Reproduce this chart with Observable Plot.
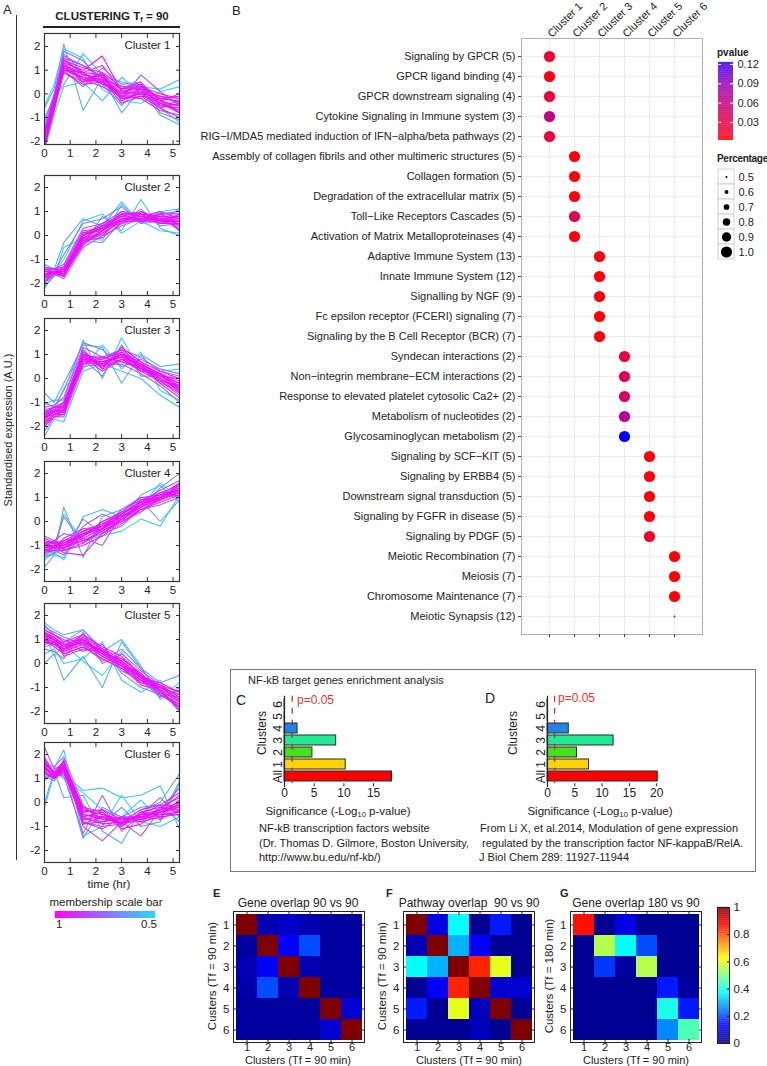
<!DOCTYPE html>
<html><head><meta charset="utf-8">
<script src="https://cdn.jsdelivr.net/npm/d3@7"></script>
<script src="https://cdn.jsdelivr.net/npm/@observablehq/plot@0.6"></script>
<style>
body{margin:0;background:#fff;font-family:"Liberation Sans",Arial,Helvetica,sans-serif;}
#root{position:relative;width:767px;height:1066px;overflow:hidden;background:#fff;}
.t{position:absolute;white-space:nowrap;color:#222;line-height:1;}
.t sub{font-size:65%;vertical-align:-0.25em;line-height:0;}
</style></head><body><div id="root"></div><script>
// ---------------- DATA ----------------
const times = [0, 0.375, 0.75, 1.5, 2.25, 3, 3.75, 4.5, 5.25];
const membership = [0.98,0.97,0.96,0.95,0.94,0.93,0.92,0.90,0.80,0.76,0.72,0.68,0.60,0.56,0.53,0.50,
  0.99,0.97,0.95,0.93,0.91,0.88,0.86,0.84];
const cluster1 = [
[-1.9,-0.4,1.2,0.8,0.7,0.0,0.1,-0.3,-0.5],[-2.1,-0.5,1.1,0.6,0.5,-0.2,0.0,-0.5,-0.6],
[-1.7,-0.2,1.4,0.9,0.8,0.2,0.3,-0.2,-0.3],[-2.2,-0.6,1.0,0.7,0.6,-0.1,0.2,-0.4,-0.8],
[-1.8,-0.3,1.3,1.0,1.6,0.1,0.0,-0.1,-0.2],[-2.0,-0.4,1.2,0.5,0.9,-0.3,0.1,-0.6,-0.4],
[-1.6,-0.2,1.5,0.8,0.6,0.3,0.4,-0.3,0.0],[-2.3,-0.7,0.9,0.4,0.5,-0.1,-0.2,-0.7,-0.9],
[-1.5,-0.2,1.6,1.2,0.7,-0.2,0.8,0.1,-0.5],[-1.2,0.0,1.8,1.4,0.5,0.2,0.4,-0.2,-0.8],
[-2.0,-0.5,1.0,0.3,1.1,0.4,0.5,-0.8,-1.1],[-1.4,-0.1,1.7,0.9,0.4,-0.5,0.3,-0.5,-0.3],
[-0.6,0.2,2.1,-0.7,0.7,-0.8,0.2,-0.9,-1.3],[-1.0,-0.2,0.4,1.7,0.8,0.5,0.3,0.2,0.6],
[-2.4,-0.9,0.3,0.5,-0.3,0.7,0.0,-0.6,-1.2],[-0.5,0.4,1.9,1.5,0.2,-0.3,-0.4,0.1,0.3],
[-1.8,-0.3,1.0,0.9,0.4,0.1,0.2,-0.4,-0.7],[-2.0,-0.5,1.3,0.6,0.8,-0.2,-0.1,-0.2,-0.1],
[-1.7,-0.3,1.1,0.7,0.5,0.0,0.4,-0.5,-0.6],[-2.1,-0.6,1.4,1.1,0.9,0.3,0.2,-0.1,-0.4],
[-1.9,-0.4,0.9,0.5,0.6,-0.4,-0.1,-0.6,-1.0],[-1.6,-0.1,1.2,0.9,1.2,0.1,0.3,0.0,-0.2],
[-2.2,-0.7,1.1,0.6,0.3,-0.1,0.0,-0.4,-0.5],[-1.8,-0.4,1.5,1.2,0.7,0.2,0.5,-0.3,-0.8]];
const cluster2 = [
[-1.7,-1.5,-1.6,-0.2,0.2,0.7,0.8,0.6,0.6],[-1.6,-1.5,-1.5,0.0,0.3,0.8,0.7,0.8,0.7],
[-1.8,-1.5,-1.7,-0.3,0.1,0.6,0.9,0.5,0.5],[-1.5,-1.5,-1.4,0.1,0.4,0.9,0.6,0.7,0.8],
[-1.9,-1.6,-1.6,-0.1,0.0,0.7,0.7,0.9,0.4],[-1.4,-1.4,-1.5,0.0,0.3,0.5,1.0,0.6,0.7],
[-1.7,-1.5,-1.6,-0.4,0.2,0.9,0.8,0.7,0.3],[-1.6,-1.6,-1.3,-0.2,0.4,0.8,0.6,0.9,0.9],
[-1.3,-1.4,-1.2,0.3,0.5,1.0,0.9,0.6,0.8],[-2.0,-1.6,-1.8,-0.5,0.0,0.4,0.7,1.0,0.2],
[-1.5,-1.5,-0.8,0.5,0.7,1.2,0.5,0.9,1.0],[-2.1,-1.7,-1.5,-0.2,-0.3,0.6,1.1,0.4,0.5],
[-1.2,-1.4,-0.3,0.7,0.4,1.4,0.5,0.6,1.1],[-2.2,-1.6,-1.7,-0.4,0.8,0.2,1.5,0.3,0.0],
[-1.4,-1.5,-1.0,0.6,0.9,0.1,0.6,0.2,0.1],[-1.9,-1.7,-0.5,-0.1,-0.2,1.3,0.5,1.0,1.1],
[-1.6,-1.5,-1.5,-0.1,0.3,0.7,0.7,0.7,0.5],[-1.7,-1.5,-1.7,0.1,0.2,0.9,0.9,0.8,0.8],
[-1.5,-1.4,-1.4,-0.3,0.1,0.6,0.6,0.6,0.4],[-1.8,-1.6,-1.5,0.0,0.5,0.8,1.0,0.7,0.6],
[-1.6,-1.5,-1.6,-0.2,-0.1,0.5,0.7,0.5,0.9],[-1.4,-1.4,-1.3,0.2,0.3,1.0,0.8,1.0,0.7],
[-1.9,-1.6,-1.7,-0.3,0.2,0.7,0.6,0.8,0.2],[-1.7,-1.5,-1.4,0.0,0.4,0.6,0.8,0.6,0.6]];
const cluster3 = [
[-1.6,-1.4,-1.2,0.9,0.6,1.0,0.5,0.1,-0.3],[-1.8,-1.5,-1.3,0.8,0.5,0.8,0.4,0.0,-0.5],
[-1.4,-1.2,-1.0,1.0,0.8,1.1,0.6,0.2,-0.2],[-1.7,-1.3,-1.4,0.7,0.7,0.9,0.3,-0.1,-0.6],
[-1.5,-1.4,-1.1,1.2,0.4,1.3,0.7,0.3,0.0],[-2.0,-1.6,-1.3,0.6,0.9,0.7,0.5,0.0,-0.4],
[-1.3,-1.2,-1.2,1.1,0.6,1.0,0.4,0.2,-0.1],[-1.9,-1.5,-1.5,0.9,0.3,0.8,0.6,-0.2,-0.8],
[-1.2,-1.1,-0.8,1.3,0.9,1.2,0.9,0.3,0.1],[-2.2,-1.6,-1.6,0.5,0.6,0.6,0.2,-0.3,-1.0],
[-1.0,-1.2,-0.5,1.5,1.2,0.5,0.8,0.4,0.2],[-1.6,-1.3,-1.0,0.8,0.1,1.4,0.1,0.1,-0.5],
[-0.6,-1.0,-0.2,1.4,1.3,-0.2,1.0,0.5,0.6],[-2.4,-1.7,-1.8,0.3,0.6,0.3,0.0,-0.7,-1.2],
[-1.1,-0.9,-0.9,1.6,0.0,1.7,0.3,0.3,0.4],[-1.5,-1.4,-0.4,0.4,1.4,0.4,1.1,-0.5,-0.9],
[-1.6,-1.4,-1.3,0.8,0.7,0.9,0.6,0.2,-0.4],[-1.7,-1.4,-1.2,1.0,0.5,1.1,0.4,-0.1,-0.3],
[-1.5,-1.3,-1.1,0.9,0.6,0.9,0.5,0.0,-0.5],[-1.8,-1.5,-1.4,0.7,0.8,1.2,0.6,0.1,-0.2],
[-1.4,-1.3,-1.0,1.1,0.4,0.8,0.3,0.2,-0.6],[-1.9,-1.6,-1.5,0.6,0.7,1.0,0.7,-0.1,-0.7],
[-1.5,-1.2,-1.2,0.9,0.9,0.7,0.4,0.1,0.0],[-1.6,-1.5,-1.3,1.0,0.6,1.1,0.5,-0.2,-0.4]];
const cluster4 = [
[-1.1,-1.0,-1.0,-0.6,-0.2,0.2,0.7,1.0,1.3],[-1.0,-0.9,-0.9,-0.5,-0.3,0.3,0.8,1.1,1.4],
[-1.2,-1.1,-1.1,-0.8,-0.4,0.1,0.6,0.9,1.2],[-0.9,-0.8,-1.0,-0.4,-0.1,0.3,0.9,1.0,1.5],
[-1.3,-1.2,-1.2,-1.0,-0.6,-0.1,0.5,0.8,1.1],[-0.7,-0.9,-0.8,-0.6,0.0,0.4,1.0,1.1,1.6],
[-1.1,-1.0,-1.3,-1.4,-0.5,0.0,0.4,1.0,1.3],[-1.0,-1.1,-0.7,-0.3,-0.2,0.2,0.7,1.2,1.2],
[-0.6,-0.8,-0.5,-0.7,-1.0,0.3,0.8,1.3,1.7],[-1.4,-1.2,-1.4,-0.2,0.3,0.0,0.5,0.7,1.0],
[-1.2,-1.0,0.2,-0.9,-0.3,0.5,1.0,0.9,1.4],[-1.5,-1.3,-1.2,0.1,-0.5,-0.2,0.6,1.4,2.0],
[-1.9,-1.4,0.6,-1.5,0.2,0.5,0.9,0.0,0.9],[-1.2,-1.3,-1.6,0.2,0.5,0.2,1.1,1.5,0.8],
[-1.6,-1.3,0.3,-0.8,-0.6,-0.4,0.1,-0.2,1.1],[-1.4,-1.4,-1.5,-0.5,-0.4,0.4,0.6,1.6,1.0],
[-1.1,-1.0,-1.1,-0.7,-0.3,0.1,0.7,1.1,1.3],[-1.0,-1.0,-0.9,-0.6,-0.1,0.3,0.8,0.9,1.4],
[-1.2,-1.1,-1.0,-0.5,-0.3,0.2,0.6,1.0,1.2],[-0.9,-0.9,-1.2,-0.9,-0.4,0.0,0.9,1.2,1.5],
[-1.3,-1.1,-0.8,-0.4,-0.2,0.4,0.7,1.0,1.1],[-1.0,-0.8,-1.0,-0.8,-0.5,0.1,0.5,0.9,1.6],
[-1.2,-1.2,-1.1,-0.6,0.0,0.3,0.8,1.1,1.3],[-0.8,-0.9,-0.9,-0.5,-0.2,0.2,0.6,1.0,1.2]];
const cluster5 = [
[1.1,0.9,0.6,0.9,0.4,0.0,-0.6,-1.0,-1.5],[1.3,1.0,0.8,1.0,0.5,0.1,-0.5,-1.1,-1.6],
[0.9,0.8,0.5,0.8,0.3,-0.1,-0.7,-0.9,-1.4],[1.2,1.1,0.7,1.1,0.6,0.2,-0.4,-1.2,-1.7],
[1.0,0.7,0.4,0.7,0.2,-0.2,-0.8,-1.0,-1.3],[1.4,1.2,0.9,1.2,0.7,0.3,-0.5,-1.3,-1.8],
[0.8,0.9,0.6,1.0,0.4,0.0,-0.6,-0.8,-1.2],[1.1,1.0,0.3,0.6,0.5,-0.1,-0.9,-1.1,-2.0],
[1.6,1.2,1.0,0.5,0.8,-0.3,-0.7,-1.4,-1.1],[0.6,0.5,0.2,1.3,0.0,0.4,-0.3,-0.9,-1.6],
[1.5,1.3,1.1,0.8,0.1,0.6,-0.2,-1.2,-1.9],[0.7,0.8,0.9,1.4,0.6,-0.4,-1.0,-1.3,-1.4],
[0.0,0.4,-0.7,0.3,-1.0,0.9,-0.2,-0.8,-0.5],[1.7,1.4,1.2,1.4,0.5,1.0,-0.1,-1.5,-1.0],
[0.4,0.6,0.0,0.2,0.9,-0.7,-1.2,-0.7,-2.0],[1.3,0.3,0.8,0.1,-0.5,0.5,-0.6,-1.4,-0.8],
[1.2,1.0,0.7,0.9,0.5,0.1,-0.5,-1.0,-1.5],[1.0,0.9,0.5,1.0,0.3,-0.1,-0.7,-1.1,-1.6],
[1.3,1.1,0.8,0.8,0.6,0.0,-0.6,-0.9,-1.4],[0.9,0.8,0.6,1.1,0.4,0.2,-0.4,-1.2,-1.8],
[1.1,1.0,0.4,0.7,0.2,-0.2,-0.8,-1.0,-1.3],[1.4,1.2,0.9,1.0,0.5,0.1,-0.6,-1.3,-1.7],
[1.0,0.8,0.6,0.9,0.4,-0.1,-0.5,-0.9,-1.2],[1.2,1.0,0.7,1.2,0.6,0.0,-0.7,-1.1,-1.9]];
const cluster6 = [
[1.5,1.1,1.5,-0.5,-0.6,-0.8,-0.6,-0.4,-0.2],[1.7,1.2,1.6,-0.3,-0.5,-0.9,-0.5,-0.3,0.0],
[1.3,1.0,1.4,-0.7,-0.8,-0.7,-0.7,-0.5,-0.4],[1.6,1.3,1.7,-0.4,-0.3,-1.0,-0.4,-0.2,0.2],
[1.2,1.0,1.3,-0.8,-1.1,-0.6,-0.8,-0.6,-0.5],[1.9,1.2,1.5,-0.2,-0.7,-0.8,-0.3,-0.1,0.4],
[1.4,1.1,1.2,-0.6,-0.4,-1.1,-0.9,-0.4,-0.1],[1.5,1.0,1.8,-0.9,-0.6,-0.7,-0.6,-0.7,-0.3],
[2.3,1.4,1.6,-1.0,-1.6,-0.8,-1.4,-0.3,0.6],[1.0,1.2,1.1,-1.3,0.3,-1.2,-0.5,0.2,-0.6],
[1.6,1.5,1.9,-0.1,-0.9,-0.2,-1.0,-0.8,0.8],[1.1,0.9,1.4,-1.5,-0.2,-0.6,-0.2,-0.1,-0.8],
[0.0,1.3,0.2,0.3,-1.2,-1.7,-0.3,0.0,1.2],[-0.2,1.2,1.2,0.5,0.6,0.2,0.3,0.7,-1.1],
[1.3,1.4,2.2,-1.4,-1.0,0.3,-0.8,-1.0,-0.6],[0.9,1.3,1.0,0.4,-0.3,-0.6,0.1,-0.7,0.9],
[1.5,1.1,1.4,-0.5,-0.7,-0.8,-0.6,-0.4,-0.1],[1.6,1.2,1.6,-0.3,-0.5,-0.7,-0.7,-0.3,-0.3],
[1.3,1.0,1.5,-0.7,-0.6,-0.9,-0.5,-0.5,0.1],[1.4,1.1,1.3,-0.6,-0.9,-0.8,-0.8,-0.2,-0.4],
[1.8,1.2,1.7,-0.2,-0.4,-1.0,-0.4,-0.6,0.0],[1.2,1.0,1.4,-0.9,-0.8,-0.6,-0.6,-0.3,0.3],
[1.5,1.1,1.6,-0.4,-0.3,-0.7,-0.5,-0.1,-0.2],[1.7,1.2,1.5,-0.8,-1.0,-0.9,-0.7,-0.5,-0.5]];
const clusterProfiles = [cluster1, cluster2, cluster3, cluster4, cluster5, cluster6];

const clusterNames = ["Cluster 1","Cluster 2","Cluster 3","Cluster 4","Cluster 5","Cluster 6"];
const pathways = [
"Signaling by GPCR (5)","GPCR ligand binding (4)","GPCR downstream signaling (4)",
"Cytokine Signaling in Immune system (3)","RIG\u2212I/MDA5 mediated induction of IFN\u2212alpha/beta pathways (2)",
"Assembly of collagen fibrils and other multimeric structures (5)","Collagen formation (5)",
"Degradation of the extracellular matrix (5)","Toll\u2212Like Receptors Cascades (5)",
"Activation of Matrix Metalloproteinases (4)","Adaptive Immune System (13)","Innate Immune System (12)",
"Signalling by NGF (9)","Fc epsilon receptor (FCERI) signaling (7)","Signaling by the B Cell Receptor (BCR) (7)",
"Syndecan interactions (2)","Non\u2212integrin membrane\u2212ECM interactions (2)",
"Response to elevated platelet cytosolic Ca2+ (2)","Metabolism of nucleotides (2)",
"Glycosaminoglycan metabolism (2)","Signaling by SCF\u2212KIT (5)","Signaling by ERBB4 (5)",
"Downstream signal transduction (5)","Signaling by FGFR in disease (5)","Signaling by PDGF (5)",
"Meiotic Recombination (7)","Meiosis (7)","Chromosome Maintenance (7)","Meiotic Synapsis (12)"];
const pathwayCluster = [1,1,1,1,1, 2,2,2,2,2, 3,3,3,3,3, 4,4,4,4,4, 5,5,5,5,5, 6,6,6,6];
const pathwayP = [0.018,0.005,0.022,0.060,0.022, 0.004,0.004,0.004,0.035,0.004,
  0.003,0.003,0.003,0.003,0.003, 0.025,0.035,0.045,0.070,0.123,
  0.004,0.004,0.004,0.004,0.012, 0.003,0.003,0.003,0.003];
const pathwayPct = [1,1,1,1,1, 1,1,1,1,1, 1,1,1,1,1, 1,1,1,1,1, 1,1,1,1,1, 1,1,1,0.5];
const pctLegend = [0.5,0.6,0.7,0.8,0.9,1.0];
const pTicks = [0.03,0.06,0.09,0.12];

const barCats = ["6","5","4","3","2","1","All"];
const barColors = ["#1a1a1a","#1a1a1a","#1f86e6","#22ea90","#44e21c","#ffd400","#ff0000"];
const sigC = [0.08,0.08,2.2,8.7,4.7,10.3,18.1];
const sigD = [0.08,0.08,3.9,12.1,5.4,7.6,20.2];
const pThreshold = 1.3;

const heatLabels = ["1","2","3","4","5","6"];
const geneOverlap90 = [
[1.00,0.05,0.07,0.05,0.03,0.03],[0.03,1.00,0.12,0.20,0.03,0.03],[0.05,0.12,1.00,0.05,0.03,0.03],
[0.04,0.20,0.05,1.00,0.03,0.03],[0.03,0.03,0.03,0.03,1.00,0.08],[0.03,0.03,0.03,0.03,0.08,1.00]];
const pathwayOverlap90 = [
[1.00,0.10,0.38,0.02,0.15,0.02],[0.05,1.00,0.30,0.12,0.02,0.02],[0.38,0.30,1.00,0.84,0.60,0.02],
[0.02,0.12,0.84,1.00,0.08,0.08],[0.15,0.02,0.60,0.06,1.00,0.02],[0.02,0.02,0.02,0.06,0.02,1.00]];
const geneOverlap180 = [
[0.86,0.02,0.10,0.02,0.02,0.02],[0.02,0.55,0.38,0.20,0.02,0.02],[0.02,0.18,0.03,0.55,0.02,0.02],
[0.02,0.02,0.02,0.02,0.15,0.03],[0.02,0.02,0.02,0.02,0.40,0.15],[0.02,0.02,0.02,0.02,0.26,0.45]];
const jetStops = [0,0.125,0.375,0.625,0.875,1];
const jetColors = ["#00007f","#0000ff","#00ffff","#ffff00","#ff0000","#7f0000"];
const colorbarTicks = [0,0.2,0.4,0.6,0.8,1];

// ---------------- HELPERS ----------------
const FONT = '"Liberation Sans", Arial, Helvetica, sans-serif';
const root = document.getElementById("root");
const style = {fontFamily: FONT, fontSize: "11px", color: "#222", background: "none", overflow: "visible"};
function put(node, left, top) {
  node.style.position = "absolute"; node.style.left = left + "px"; node.style.top = top + "px";
  root.appendChild(node); return node;
}
function label(html, x, y, {anchor = "start", size = 11, weight = "normal", color = "#222", rotate = 0, spacing = 0} = {}) {
  const d = document.createElement("div");
  d.className = "t"; d.innerHTML = html;
  d.style.left = x + "px"; d.style.top = y + "px";
  d.style.fontSize = size + "px"; d.style.fontWeight = weight; d.style.color = color;
  if (spacing) d.style.letterSpacing = spacing + "px";
  const tx = anchor === "start" ? "0" : anchor === "middle" ? "-50%" : "-100%";
  d.style.transform = `translate(${tx},-50%)` + (rotate ? ` rotate(${rotate}deg)` : "");
  root.appendChild(d);
}
function line(x, y, w, h, color = "#333") {
  const d = document.createElement("div");
  d.style.position = "absolute"; d.style.left = x + "px"; d.style.top = y + "px";
  d.style.width = w + "px"; d.style.height = h + "px"; d.style.background = color;
  root.appendChild(d);
}

// ---------------- PANEL A ----------------
const memColor = {type: "linear", domain: [0.5, 1], range: ["#2ad8f5", "#ff00ff"], interpolate: "rgb"};
const aFrames = [[33,144,-2.14,2.55],[175,295,-2.5,2.5],[318,438,-2.5,2.5],[461,581,-2.5,2.5],[603,723,-2.5,2.5],[742,862,-2.5,2.5]];
clusterProfiles.forEach((profiles, k) => {
  const rows = [];
  profiles.map((v, i) => ({v, i, m: membership[i]}))
    .sort((a, b) => a.m - b.m)
    .forEach(({v, i, m}) => v.forEach((y, j) => rows.push({id: i, m, t: times[j], y})));
  const [top, bottom, y0, y1] = aFrames[k];
  const h = bottom - top;
  const xt = [0,1,2,3,4,5], yt = [-2,-1,0,1,2];
  const p = Plot.plot({
    width: 25 + 135 + 4, height: 3 + h + 18,
    marginLeft: 25, marginRight: 4, marginTop: 3, marginBottom: 18,
    style,
    x: {domain: [0, 5.25]}, y: {domain: [y0, y1]},
    color: memColor,
    marks: [
      Plot.line(rows, {x: "t", y: "y", z: "id", stroke: "m", strokeWidth: 1.1, clip: true}),
      Plot.axisX({anchor: "bottom", ticks: xt, tickSize: -4, tickFormat: () => "", label: null, stroke: "#333"}),
      Plot.axisX({anchor: "top", ticks: xt, tickSize: -4, tickFormat: () => "", label: null, stroke: "#333"}),
      Plot.axisY({anchor: "left", ticks: yt, tickSize: -4, tickFormat: () => "", label: null, stroke: "#333"}),
      Plot.axisY({anchor: "right", ticks: yt, tickSize: -4, tickFormat: () => "", label: null, stroke: "#333"}),
      Plot.axisX({anchor: "bottom", ticks: xt, tickSize: 0, tickPadding: 4, label: null, fontSize: 11.5, tickFormat: d => String(d)}),
      Plot.axisY({anchor: "left", ticks: yt, tickSize: 0, tickPadding: 4, label: null, fontSize: 11.5, tickFormat: d => d < 0 ? "-" + Math.abs(d) : String(d)}),
      Plot.frame({stroke: "#333", strokeWidth: 1.2}),
      Plot.text([clusterNames[k]], {frameAnchor: "top-right", dx: -9, dy: 7, fontSize: 11.5, fill: "#222"})
    ]
  });
  put(p, 19, top - 3);
});
// membership scale bar
{
  const steps = d3.range(0.5, 1.0, 0.005);
  const p = Plot.plot({
    width: 100, height: 7, margin: 0, style,
    x: {domain: [1, 0.5], axis: null}, color: memColor,
    marks: [Plot.rect(steps, {x1: d => d, x2: d => d + 0.006, fill: d => d})]
  });
  put(p, 55, 911);
}

// ---------------- PANEL B ----------------
const pathwayTable = pathways.map((name, i) => ({pathway: name, cluster: clusterNames[pathwayCluster[i] - 1], p: pathwayP[i], pct: pathwayPct[i]}));
const pColor = {type: "linear", domain: [0.002, 0.123], range: ["#ff0000", "#0000ff"], interpolate: "lab"};
const rScale = {type: "linear", domain: [0.5, 1], range: [1, 5.6]};
{
  const p = Plot.plot({
    width: 315 + 181 + 2, height: 38 + 596 + 10,
    marginLeft: 315, marginRight: 2, marginTop: 38, marginBottom: 10,
    style,
    x: {type: "point", domain: clusterNames, padding: 1},
    y: {type: "point", domain: pathways, padding: 0.6},
    r: rScale, color: pColor,
    marks: [
      Plot.gridX({stroke: "#e6e6e6", strokeOpacity: 1, strokeWidth: 0.8}),
      Plot.gridY({stroke: "#e6e6e6", strokeOpacity: 1, strokeWidth: 0.8}),
      Plot.frame({stroke: "#b0b0b0"}),
      Plot.dot(pathwayTable, {x: "cluster", y: "pathway", r: "pct", fill: "p"}),
      Plot.axisY({anchor: "left", tickSize: 3, tickPadding: 3, label: null, stroke: "#444", fontSize: 11}),
      Plot.axisX({anchor: "bottom", tickSize: 3, tickFormat: () => "", label: null, stroke: "#444"}),
      Plot.axisX({anchor: "top", tickSize: 0, tickPadding: 3, tickRotate: -45, textAnchor: "start", label: null, fontSize: 11})
    ]
  });
  put(p, 206, 0);
}
// pvalue colorbar
label("pvalue", 717, 53, {size: 10, weight: "bold"});
{
  const steps = d3.range(0.002, 0.123, 0.001);
  const p = Plot.plot({
    width: 15 + 35, height: 78, marginLeft: 0, marginRight: 35, marginTop: 0, marginBottom: 0,
    style, y: {domain: [0.002, 0.123]}, color: pColor,
    marks: [
      Plot.rect(steps, {y1: d => d, y2: d => d + 0.0012, fill: d => d}),
      Plot.tickY(pTicks, {y: d => d, stroke: "white", insetRight: 12}),
      Plot.tickY(pTicks, {y: d => d, stroke: "white", insetLeft: 12}),
      Plot.axisY({anchor: "right", ticks: pTicks, tickSize: 0, tickPadding: 4, tickFormat: ".2f", label: null, fontSize: 11})
    ]
  });
  put(p, 718, 62);
}
// percentage legend
label("Percentage", 717, 159, {size: 10, weight: "bold", spacing: -0.3});
{
  const p = Plot.plot({
    width: 16 + 35, height: 95, marginLeft: 0, marginRight: 35, marginTop: 0, marginBottom: 0,
    style,
    x: {type: "band", domain: ["k"], padding: 0, axis: null},
    y: {type: "band", domain: pctLegend, padding: 0},
    r: rScale,
    marks: [
      Plot.cell(pctLegend, {x: () => "k", y: d => d, fill: "white", stroke: "#d0d0d0", inset: 0}),
      Plot.dot(pctLegend, {x: () => "k", y: d => d, r: d => d, fill: "black"}),
      Plot.axisY({anchor: "right", tickSize: 0, tickPadding: 4, tickFormat: ".1f", label: null, fontSize: 11})
    ]
  });
  put(p, 718, 166);
}

// ---------------- PANELS C / D ----------------
function barPlot(values, maxX, ticks, pxPerUnit) {
  const data = barCats.map((c, i) => ({c, v: values[i], col: barColors[i]}));
  return Plot.plot({
    width: 40 + maxX * pxPerUnit + 8, height: 5.75 + 87.5 + 20,
    marginLeft: 40, marginRight: 8, marginTop: 5.75, marginBottom: 20,
    style,
    x: {domain: [0, maxX]},
    y: {type: "band", domain: barCats, paddingInner: 0.2, paddingOuter: 0.1},
    color: {type: "identity"},
    marks: [
      Plot.barX(data, {x: "v", y: "c", fill: "col", stroke: "#2a2a2a", strokeWidth: 1}),
      Plot.ruleX([pThreshold], {stroke: "#9a3b35", strokeOpacity: 0.9, strokeDasharray: "6,6", strokeWidth: 1.4}),
      Plot.ruleX([0], {stroke: "#222", strokeWidth: 1.2, insetBottom: -4}),
      Plot.axisX({ticks, tickSize: 3, tickPadding: 2, label: null, fontSize: 12, stroke: "#222", tickFormat: d => String(d)}),
      Plot.axisY({anchor: "left", tickSize: 0, tickPadding: 3, tickRotate: -90, label: null, fontSize: 12})
    ]
  });
}
{
  const box = document.createElement("div");
  box.style.border = "1.5px solid #777"; box.style.width = "524px"; box.style.height = "201px";
  put(box, 230, 669);
}
label("NF-kB target genes enrichment analysis", 248, 680, {size: 11});
label("C", 236, 700, {size: 14});
label("D", 485, 698, {size: 14});
put(barPlot(sigC, 20, [0,5,10,15], 5.94), 244, 690);
put(barPlot(sigD, 21, [0,5,10,15,20], 5.46), 507, 690);
label("Clusters", 262, 733, {anchor: "middle", size: 12, rotate: -90});
label("Clusters", 513, 733, {anchor: "middle", size: 12, rotate: -90});
label("p=0.05", 297, 700, {size: 12, color: "#e8332c"});
label("p=0.05", 558, 698, {size: 12, color: "#e8332c"});
label("Significance (-Log<sub>10</sub> p-value)", 338, 812, {anchor: "middle", size: 11.5});
label("Significance (-Log<sub>10</sub> p-value)", 600, 812, {anchor: "middle", size: 11.5});
label("NF-kB transcription factors website", 259, 828, {size: 11});
label("(Dr. Thomas D. Gilmore, Boston University,", 259, 843, {size: 11});
label("http://www.bu.edu/nf-kb/)", 259, 857, {size: 11});
label("From Li X, et al.2014, Modulation of gene expression", 480, 828, {size: 11});
label(" regulated by the transcription factor NF-kappaB/RelA.", 482, 843, {size: 11});
label("J Biol Chem 289: 11927-11944", 479, 857, {size: 11});

// ---------------- PANELS E / F / G ----------------
const jet = {type: "linear", domain: jetStops, range: jetColors};
function heatPlot(matrix) {
  const cells = [];
  matrix.forEach((row, i) => row.forEach((v, j) => cells.push({row: heatLabels[i], col: heatLabels[j], v})));
  return Plot.plot({
    width: 16 + 131 + 4, height: 2 + 131 + 14,
    marginLeft: 16, marginRight: 4, marginTop: 2, marginBottom: 14,
    style,
    x: {type: "band", domain: heatLabels, padding: 0},
    y: {type: "band", domain: heatLabels, padding: 0},
    color: jet,
    marks: [
      Plot.cell(cells, {x: "col", y: "row", fill: "v", inset: 0, shapeRendering: "crispEdges"}),
      Plot.frame({stroke: "#222"}),
      Plot.axisX({anchor: "top", tickSize: -3, tickFormat: () => "", label: null, stroke: "#222"}),
      Plot.axisX({anchor: "bottom", tickSize: -3, tickFormat: () => "", label: null, stroke: "#222"}),
      Plot.axisY({anchor: "left", tickSize: -3, tickFormat: () => "", label: null, stroke: "#222"}),
      Plot.axisY({anchor: "right", tickSize: -3, tickFormat: () => "", label: null, stroke: "#222"}),
      Plot.axisX({anchor: "bottom", tickSize: 0, tickPadding: 1, label: null, fontSize: 11}),
      Plot.axisY({anchor: "left", tickSize: 0, tickPadding: 4, label: null, fontSize: 11.5})
    ]
  });
}
put(heatPlot(geneOverlap90), 233 - 16, 911 - 2);
put(heatPlot(pathwayOverlap90), 403 - 16, 911 - 2);
put(heatPlot(geneOverlap180), 570 - 16, 911 - 2);
label("E", 213, 893, {size: 11, weight: "bold"});
label("F", 386, 893, {size: 11, weight: "bold"});
label("G", 560, 893, {size: 11, weight: "bold"});
label("Gene overlap 90 vs 90", 298, 903, {anchor: "middle", size: 12});
label("Pathway overlap&nbsp; 90 vs 90", 469, 903, {anchor: "middle", size: 12});
label("Gene overlap 180 vs 90", 636, 903, {anchor: "middle", size: 12});
label("Clusters (Tf = 90 min)", 298, 1060, {anchor: "middle", size: 11});
label("Clusters (Tf = 90 min)", 469, 1060, {anchor: "middle", size: 11});
label("Clusters (Tf = 90 min)", 636, 1060, {anchor: "middle", size: 11});
label("Custers (Tf = 90 min)", 213, 976, {anchor: "middle", size: 11.5, rotate: -90});
label("Custers (Tf = 90 min)", 383, 976, {anchor: "middle", size: 11.5, rotate: -90});
label("Custers (Tf = 180 min)", 550, 976, {anchor: "middle", size: 11.5, rotate: -90});
{
  const steps = d3.range(0, 1, 0.005);
  const p = Plot.plot({
    width: 12 + 30, height: 136, marginLeft: 0, marginRight: 30, marginTop: 0, marginBottom: 0,
    style, y: {domain: [0, 1]}, color: jet,
    marks: [
      Plot.rect(steps, {y1: d => d, y2: d => d + 0.006, fill: d => d}),
      Plot.frame({stroke: "#222"}),
      Plot.axisY({anchor: "right", ticks: colorbarTicks, tickSize: -3, tickFormat: () => "", label: null, stroke: "#222"}),
      Plot.axisY({anchor: "right", ticks: colorbarTicks, tickSize: 0, tickPadding: 4, label: null, fontSize: 11.5,
        tickFormat: d => (d === 0 || d === 1) ? String(d) : d.toFixed(1)})
    ]
  });
  put(p, 717, 907);
}

// ---------------- PANEL A / B DECORATIONS ----------------
label("A", 3, 9, {size: 13});
label("B", 232, 10, {size: 13});
line(16, 15, 1.3, 845, "#333");
label("CLUSTERING T<sub>f</sub> = 90", 112, 17, {anchor: "middle", size: 11.5, weight: "bold"});
line(43, 26, 137, 1.5, "#222");
label("Standardised expression (A.U.)", 8, 430, {anchor: "middle", size: 11, rotate: -90});
label("time (hr)", 109, 885, {anchor: "middle", size: 11.5});
label("membership scale bar", 106, 903, {anchor: "middle", size: 11.5});
label("1", 56, 925, {size: 11.5});
label("0.5", 157, 925, {anchor: "end", size: 11.5});
</script></body></html>
